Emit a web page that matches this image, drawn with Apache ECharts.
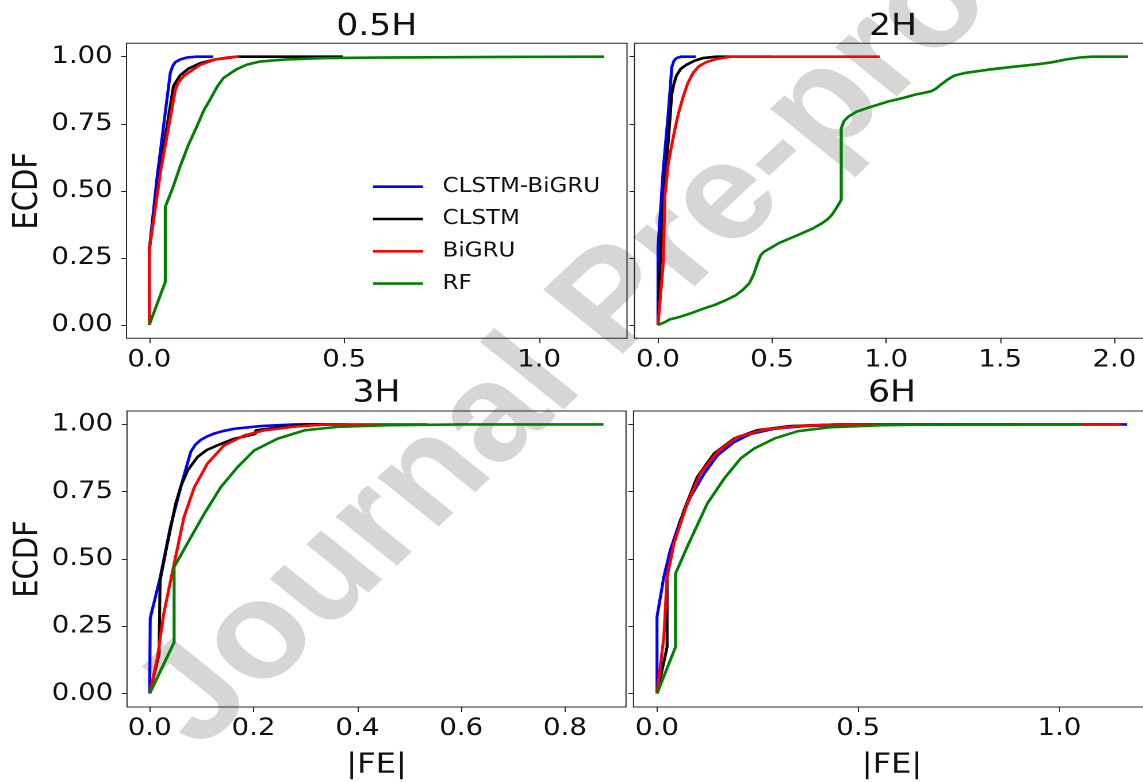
<!DOCTYPE html>
<html><head><meta charset="utf-8">
<script src="https://cdn.jsdelivr.net/npm/echarts@6/dist/echarts.min.js"></script>
<style>
html,body{margin:0;padding:0;background:#fff;overflow:hidden;}
#wrap{width:1143px;height:782px;overflow:hidden;position:relative;background:#fff;}
#chart{width:994px;height:782px;transform:scaleX(1.1499);transform-origin:0 0;}
</style></head><body><div id="wrap"><div id="chart"></div></div>
<script>
// ---------------- data ----------------
const panelTitles = ['0.5H', '2H', '3H', '6H'];
const modelNames = ['CLSTM-BiGRU', 'CLSTM', 'BiGRU', 'RF'];
const yTicks = [0, 0.25, 0.5, 0.75, 1.0];
const xTicks05 = [0, 0.5, 1.0];
const xTicks2 = [0, 0.5, 1.0, 1.5, 2.0];
const xTicks3 = [0, 0.2, 0.4, 0.6, 0.8];
const xTicks6 = [0, 0.5, 1.0];

// 0.5H
const h05_clstmBigru = [[0,0],[0,0.28],[0.02,0.55],[0.04,0.78],[0.054,0.94],[0.06,0.965],[0.067,0.98],[0.08,0.99],[0.097,0.997],[0.12,1.0],[0.164,1.0]];
const h05_clstm = [[0,0],[0,0.28],[0.03,0.6],[0.062,0.89],[0.07,0.91],[0.079,0.93],[0.1,0.955],[0.131,0.976],[0.17,0.99],[0.225,1.0],[0.497,1.0]];
const h05_bigru = [[0,0],[0,0.28],[0.03,0.58],[0.067,0.877],[0.075,0.905],[0.09,0.93],[0.131,0.97],[0.17,0.99],[0.2,0.997],[0.229,1.0]];
const h05_rf = [[0,0],[0.041,0.16],[0.041,0.44],[0.06,0.51],[0.079,0.59],[0.1,0.67],[0.122,0.74],[0.14,0.8],[0.156,0.84],[0.175,0.89],[0.19,0.92],[0.21,0.94],[0.225,0.954],[0.25,0.97],[0.284,0.982],[0.353,0.99],[0.45,0.995],[0.59,0.997],[0.9,0.999],[1.167,1.0]];

// 2H
const h2_clstmBigru = [[0,0],[0,0.29],[0.023,0.58],[0.045,0.79],[0.055,0.9],[0.06,0.96],[0.07,0.985],[0.081,0.995],[0.1,1.0],[0.165,1.0]];
const h2_clstm = [[0,0],[0.012,0.29],[0.03,0.52],[0.049,0.73],[0.06,0.86],[0.07,0.9],[0.081,0.93],[0.1,0.955],[0.125,0.97],[0.16,0.985],[0.197,0.995],[0.255,1.0],[0.494,1.0]];
const h2_bigru = [[0,0],[0.023,0.23],[0.03,0.48],[0.045,0.6],[0.06,0.67],[0.074,0.73],[0.09,0.79],[0.11,0.85],[0.13,0.9],[0.154,0.94],[0.18,0.965],[0.212,0.98],[0.25,0.99],[0.313,1.0],[0.972,1.0]];
const h2_rf = [[0,0],[0.03,0.01],[0.05,0.02],[0.096,0.03],[0.15,0.045],[0.197,0.06],[0.25,0.075],[0.299,0.093],[0.34,0.11],[0.371,0.13],[0.4,0.155],[0.42,0.19],[0.436,0.23],[0.45,0.26],[0.465,0.273],[0.5,0.29],[0.53,0.305],[0.58,0.323],[0.632,0.342],[0.68,0.36],[0.719,0.379],[0.745,0.395],[0.762,0.41],[0.785,0.44],[0.803,0.466],[0.803,0.733],[0.815,0.76],[0.835,0.777],[0.87,0.795],[0.922,0.81],[1.009,0.833],[1.07,0.845],[1.125,0.858],[1.197,0.871],[1.22,0.882],[1.24,0.896],[1.27,0.915],[1.3,0.93],[1.35,0.94],[1.443,0.951],[1.55,0.962],[1.675,0.973],[1.733,0.98],[1.79,0.99],[1.849,0.997],[1.9,1.0],[2.06,1.0]];

// 3H
const h3_clstmBigru = [[0,0],[0.001,0.28],[0.02,0.43],[0.04,0.62],[0.063,0.79],[0.079,0.898],[0.088,0.925],[0.098,0.942],[0.11,0.955],[0.124,0.966],[0.14,0.975],[0.163,0.984],[0.214,0.994],[0.28,1.0],[0.37,1.0]];
const h3_clstm = [[0,0],[0.018,0.147],[0.02,0.42],[0.034,0.556],[0.05,0.705],[0.06,0.77],[0.073,0.829],[0.092,0.879],[0.11,0.905],[0.13,0.922],[0.163,0.947],[0.204,0.965],[0.204,0.978],[0.253,0.99],[0.3,1.0],[0.38,1.0]];
const h3_bigru = [[0,0],[0.015,0.135],[0.027,0.296],[0.047,0.482],[0.066,0.655],[0.086,0.767],[0.111,0.854],[0.143,0.922],[0.182,0.959],[0.22,0.978],[0.285,0.993],[0.34,1.0],[0.535,1.0]];
const h3_rf = [[0,0],[0.047,0.19],[0.047,0.47],[0.072,0.556],[0.105,0.668],[0.137,0.767],[0.169,0.841],[0.201,0.903],[0.246,0.947],[0.298,0.978],[0.362,0.991],[0.459,0.997],[0.6,1.0],[0.874,1.0]];

// 6H
const h6_clstmBigru = [[0,0],[0,0.285],[0.017,0.434],[0.033,0.533],[0.058,0.644],[0.083,0.73],[0.117,0.817],[0.15,0.885],[0.192,0.935],[0.233,0.965],[0.292,0.984],[0.367,0.994],[0.5,1.0],[1.168,1.0]];
const h6_clstm = [[0,0],[0.025,0.173],[0.025,0.434],[0.042,0.558],[0.067,0.681],[0.1,0.805],[0.142,0.892],[0.192,0.948],[0.25,0.979],[0.333,0.994],[0.45,1.0],[0.9,1.0]];
const h6_bigru = [[0,0],[0.017,0.21],[0.025,0.434],[0.042,0.558],[0.075,0.706],[0.108,0.818],[0.15,0.898],[0.2,0.954],[0.267,0.981],[0.35,0.994],[0.45,1.0],[1.152,1.0]];
const h6_rf = [[0,0],[0.046,0.173],[0.046,0.446],[0.075,0.545],[0.125,0.706],[0.167,0.799],[0.208,0.874],[0.242,0.911],[0.292,0.948],[0.35,0.975],[0.433,0.99],[0.558,0.997],[0.7,1.0],[1.053,1.0]];

const panelData = [
  [h05_clstmBigru, h05_clstm, h05_bigru, h05_rf],
  [h2_clstmBigru, h2_clstm, h2_bigru, h2_rf],
  [h3_clstmBigru, h3_clstm, h3_bigru, h3_rf],
  [h6_clstmBigru, h6_clstm, h6_bigru, h6_rf]
];
const panelXTicks = [xTicks05, xTicks2, xTicks3, xTicks6];

// ---------------- layout / style ----------------
const SX = 1.1499;
const FONT = '"DejaVu Sans", sans-serif';
const colors = ['#0000ff', '#000000', '#ff0000', '#008000'];
const layout = [
  {l:126.5, t:43.3, w:500.5, h:295, xmin:-0.0584, xmax:1.2256},
  {l:634.5, t:43.3, w:517,   h:295, xmin:-0.103,  xmax:2.163},
  {l:127,   t:411,  w:499,   h:296, xmin:-0.0437, xmax:0.9175},
  {l:633.5, t:411,  w:517,   h:296, xmin:-0.0584, xmax:1.2264}
];
const frameColor = '#262626';
const textColor = '#111';

const grid = layout.map(p => ({
  left: p.l / SX, top: p.t, width: p.w / SX, height: p.h,
  show: true, borderColor: frameColor, borderWidth: 1, backgroundColor: 'transparent',
  containLabel: false, outerBoundsMode: 'none'
}));

const xAxis = layout.map((p, i) => ({
  type: 'value', gridIndex: i, min: p.xmin, max: p.xmax, position: 'bottom',
  splitLine: {show: false}, axisLine: {show: false, onZero: false},
  axisTick: {show: true, length: 5, lineStyle: {color: frameColor, width: 1}, customValues: panelXTicks[i]},
  axisLabel: {customValues: panelXTicks[i], formatter: v => v.toFixed(1), fontSize: 24, color: textColor, margin: 10, fontFamily: FONT},
  name: i >= 2 ? '|FE|' : '', nameLocation: 'middle', nameGap: 44,
  nameTextStyle: {fontSize: 28, color: textColor, fontFamily: FONT}
}));

const yAxis = layout.map((p, i) => ({
  type: 'value', gridIndex: i, min: -0.05, max: 1.05, position: 'left',
  splitLine: {show: false}, axisLine: {show: false, onZero: false},
  axisTick: {show: true, length: 4.5, lineStyle: {color: frameColor, width: 1}, customValues: yTicks},
  axisLabel: {show: i % 2 === 0, customValues: yTicks, formatter: v => v.toFixed(2), fontSize: 24, color: textColor, margin: 12, fontFamily: FONT},
  name: i % 2 === 0 ? 'ECDF' : '', nameLocation: 'middle', nameRotate: 90, nameGap: 71,
  nameTextStyle: {fontSize: 29, color: textColor, fontFamily: FONT}
}));

const series = [];
panelData.forEach((arrs, i) => {
  arrs.forEach((d, j) => {
    series.push({
      type: 'line', name: modelNames[j], xAxisIndex: i, yAxisIndex: i, data: d,
      symbol: 'none', showSymbol: false, smooth: false, z: 2 + j,
      lineStyle: {width: 2.6, color: colors[j]}, itemStyle: {color: colors[j]},
      emphasis: {disabled: true}, animation: false
    });
  });
});

const titleGraphics = layout.map((p, i) => ({
  type: 'text', x: (p.l + (i % 2 === 0 ? p.w : 517) / 2) / SX, y: i < 2 ? 27 : 393.5, z: 10,
  style: {text: panelTitles[i], font: '30px ' + FONT, fill: textColor, align: 'center', verticalAlign: 'middle', textAlign: 'center', textVerticalAlign: 'middle'},
  silent: true
}));

const watermark = {
  type: 'text', x: 536, y: 304, rotation: 47.2 * Math.PI / 180, z: -10, silent: true,
  style: {text: 'Journal Pre-proof', font: 'bold 137px "Liberation Sans", Arial, sans-serif', fill: '#d6d6d6',
    align: 'center', verticalAlign: 'middle', textAlign: 'center', textVerticalAlign: 'middle'}
};

const chart = echarts.init(document.getElementById('chart'), null, {renderer: 'canvas', devicePixelRatio: 2});
chart.setOption({
  backgroundColor: '#fff',
  animation: false,
  grid, xAxis, yAxis, series,
  legend: {
    data: modelNames, orient: 'vertical', left: 373 / SX, top: 176.7, padding: 0,
    itemWidth: 50 / SX, itemHeight: 20, itemGap: 12.3,
    icon: 'path://M0,0H100V6H0Z',
    textStyle: {fontSize: 20, color: textColor, fontFamily: FONT, padding: [0, 0, 0, 12]},
    selectedMode: false
  },
  graphic: {elements: [watermark].concat(titleGraphics)}
});
</script></body></html>
